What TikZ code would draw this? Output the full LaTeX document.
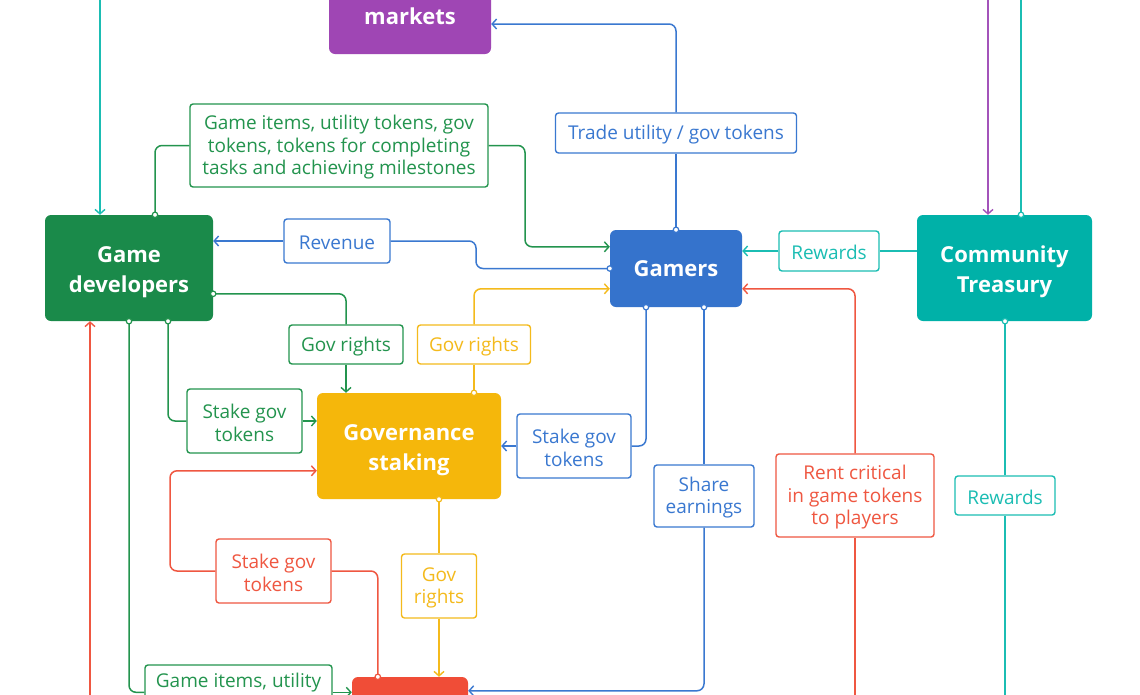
\documentclass[tikz,border=0pt]{standalone}
\usepackage{fontspec}
\setmainfont{Open Sans}
\usetikzlibrary{arrows.meta}
\definecolor{cgreen}{HTML}{1A8A4A}
\definecolor{lgreen}{HTML}{23944E}
\definecolor{cblue}{HTML}{3573CC}
\definecolor{lblue}{HTML}{3A78D0}
\definecolor{cteal}{HTML}{00B1A8}
\definecolor{lteal}{HTML}{1BBDB3}
\definecolor{cyellow}{HTML}{F5B70B}
\definecolor{lyellow}{HTML}{F4BA1C}
\definecolor{cred}{HTML}{F04D37}
\definecolor{lred}{HTML}{EF5741}
\definecolor{cpurple}{HTML}{9F46B4}
\definecolor{lpurple}{HTML}{A353BA}
\newcommand{\toplinestrut}{\rule{0pt}{25pt}}
\newcommand{\lbltopstrut}{\rule{0pt}{18pt}}
\tikzset{
  mainbox/.style={draw=none, fill=#1, rounded corners=6pt, text=white, align=center,
    inner sep=0pt, font=\fontsize{22}{30}\selectfont\bfseries},
  lbl/.style={draw=#1, fill=white, line width=1.4pt, rounded corners=3pt, text=#1, align=center,
    inner sep=0pt, font=\fontsize{19}{22.5}\selectfont},
  conn/.style={draw=#1, line width=1.5pt, rounded corners=7pt},
  arr/.style={conn=#1, -{Straight Barb[length=4.5pt,width=10pt,line width=1.4pt]}},
  pindot/.style={draw=#1, fill=white, line width=1.2pt},
}
\begin{document}
\begin{tikzpicture}[x=1pt,y=-1pt]
\clip (0,0) rectangle (1140,694);
\fill[white] (0,0) rectangle (1140,694);

% main boxes
\node[mainbox=cpurple, minimum width=162pt, minimum height=106pt] (mk) at (410,1) {\strut\\markets\rule[-4pt]{0pt}{0pt}};
\node[mainbox=cgreen, minimum width=168pt, minimum height=106pt] (gd) at (129,268) {\toplinestrut Game\\developers};
\node[mainbox=cblue, minimum width=132pt, minimum height=77pt] (gm) at (676,268.5) {Gamers};
\node[mainbox=cteal, minimum width=175pt, minimum height=106pt] (ct) at (1004.5,268) {\toplinestrut Community\\Treasury};
\node[mainbox=cyellow, minimum width=184pt, minimum height=106pt] (gs) at (409,446) {\toplinestrut Governance\\staking};
\node[mainbox=cred, minimum width=116pt, minimum height=106pt] (rb) at (410,730) {};

% labels
\node[lbl=lgreen, minimum width=298pt, minimum height=83pt] (l1) at (339,145.5)
  {\lbltopstrut Game items, utility tokens, gov\\tokens, tokens for completing\\tasks and achieving milestones};
\node[lbl=lblue, minimum width=106pt, minimum height=44pt] (lrev) at (337,241) {\lbltopstrut Revenue};
\node[lbl=lblue, minimum width=241pt, minimum height=40pt] (ltr) at (676,133) {\lbltopstrut Trade utility / gov tokens};
\node[lbl=lteal, minimum width=100pt, minimum height=40pt] (lrw1) at (829,251) {\lbltopstrut Rewards};
\node[lbl=lgreen, minimum width=114pt, minimum height=39pt] (lgr1) at (346,344.5) {\lbltopstrut Gov rights};
\node[lbl=lyellow, minimum width=113pt, minimum height=39pt] (lgr2) at (474,344.5) {\lbltopstrut Gov rights};
\node[lbl=lgreen, minimum width=115pt, minimum height=64pt] (lsg1) at (244.5,421) {\lbltopstrut Stake gov\\tokens};
\node[lbl=lblue, minimum width=114pt, minimum height=64pt] (lsg2) at (574,446) {\lbltopstrut Stake gov\\tokens};
\node[lbl=lblue, minimum width=100pt, minimum height=62pt] (lse) at (704,496) {\lbltopstrut Share\\earnings};
\node[lbl=lred, minimum width=158pt, minimum height=83pt] (lrent) at (855,495.5) {\lbltopstrut Rent critical\\in game tokens\\to players};
\node[lbl=lteal, minimum width=100pt, minimum height=39pt] (lrw2) at (1005,495.5) {\lbltopstrut Rewards};
\node[lbl=lred, minimum width=115pt, minimum height=64pt] (lsg3) at (273.5,571) {\lbltopstrut Stake gov\\tokens};
\node[lbl=lyellow, minimum width=75pt, minimum height=64pt] (lgr3) at (439,586) {\lbltopstrut Gov\\rights};
\node[lbl=lgreen, minimum width=187pt, minimum height=60pt] (lgi) at (238.5,695) {Game items, utility\\\strut};

% free ends and helper points
\coordinate (t1) at (100,-10);
\coordinate (p1) at (988,-10);
\coordinate (t2) at (1021,-10);
\coordinate (r1) at (855,710);
\coordinate (r2) at (90,710);
\coordinate (t3) at (1005,710);
\coordinate (c4) at (676,24);
\coordinate (c5) at (525,200);
\coordinate (c6) at (476,255);
\coordinate (c15) at (170,520);

% start points on boxes
\coordinate (s3) at (t2 |- ct.north);
\coordinate (s5) at ([xshift=26pt]gd.north);
\coordinate (s9) at ([xshift=65pt]gs.north);
\coordinate (s10) at ([yshift=-79pt]gd.north east);
\coordinate (s11) at ([xshift=39pt]gd.south);
\coordinate (s12) at ([xshift=-30pt]gm.south);
\coordinate (s13) at ([xshift=28pt]gm.south);
\coordinate (s14) at ([xshift=30pt]gs.south);
\coordinate (s15) at ([xshift=26pt]rb.north west);
\coordinate (s16) at (gd.south);
\coordinate (s18) at ([xshift=0.5pt]ct.south);

% target points
\coordinate (gmA) at ([yshift=-17pt]gm.north west);
\coordinate (gmB) at ([yshift=-59pt]gm.north west);
\coordinate (gmC) at ([yshift=-59pt]gm.north east);
\coordinate (gsR) at ([yshift=-78pt]gs.north west);
\coordinate (rbE) at ([yshift=-14pt]rb.north east);
\coordinate (lgiW) at ([yshift=-28pt]lgi.north west);
\coordinate (lgiE) at ([yshift=-28pt]lgi.north east);

% connectors
\draw[arr=lteal] (t1) -- (t1 |- gd.north);
\draw[arr=lpurple] (p1) -- (p1 |- ct.north);
\draw[conn=lteal] (s3) -- (t2);

\draw[conn=lblue] (gm.north) -- (ltr.south);
\draw[arr=lblue] (ltr.north) -- (c4) -- (c4 -| mk.east);

\draw[conn=lgreen] (s5) |- (l1.west);
\draw[arr=lgreen] (l1.east) -| (c5) |- (gmA);

\draw[conn=lblue] (gm.west) -| (c6) |- (lrev.east);
\draw[arr=lblue] (lrev.west) -- (lrev.west -| gd.east);

\draw[conn=lteal] (lrw1.east -| ct.west) -- (lrw1.east);
\draw[arr=lteal] (lrw1.west) -- (lrw1.west -| gm.east);

\draw[conn=lred] (r1) -- (lrent.south);
\draw[arr=lred] (lrent.north) |- (gmC);

\draw[conn=lyellow] (s9) -- (lgr2.south);
\draw[arr=lyellow] (lgr2.north) |- (gmB);

\draw[conn=lgreen] (s10) -| (lgr1.north);
\draw[arr=lgreen] (lgr1.south) -- (lgr1.south |- gs.north);

\draw[conn=lgreen] (s11) |- (lsg1.west);
\draw[arr=lgreen] (lsg1.east) -- (lsg1.east -| gs.west);

\draw[conn=lblue] (s12) |- (lsg2.east);
\draw[arr=lblue] (lsg2.west) -- (lsg2.west -| gs.east);

\draw[conn=lblue] (s13) -- (lse.north);
\draw[arr=lblue] (lse.south) |- (rbE);

\draw[conn=lyellow] (s14) -- (lgr3.north);
\draw[arr=lyellow] (lgr3.south) -- (lgr3.south |- rb.north);

\draw[conn=lred] (s15) |- (lsg3.east);
\draw[arr=lred] (lsg3.west) -| (c15) |- (gsR);

\draw[conn=lgreen] (s16) |- (lgiW);
\draw[arr=lgreen] (lgiE) -- (lgiE -| rb.west);

\draw[arr=lred] (r2) -- (r2 |- gd.south);

\draw[conn=lteal] (s18) -- (lrw2.north);
\draw[conn=lteal] (lrw2.south) -- (t3);

% start dots
\draw[pindot=lteal] (s3) circle (2.7pt);
\draw[pindot=lblue] (gm.north) circle (2.7pt);
\draw[pindot=lgreen] (s5) circle (2.7pt);
\draw[pindot=lblue] (gm.west) circle (2.7pt);
\draw[pindot=lyellow] (s9) circle (2.7pt);
\draw[pindot=lgreen] (s10) circle (2.7pt);
\draw[pindot=lgreen] (s11) circle (2.7pt);
\draw[pindot=lblue] (s12) circle (2.7pt);
\draw[pindot=lblue] (s13) circle (2.7pt);
\draw[pindot=lyellow] (s14) circle (2.7pt);
\draw[pindot=lred] (s15) circle (2.7pt);
\draw[pindot=lgreen] (s16) circle (2.7pt);
\draw[pindot=lteal] (s18) circle (2.7pt);
\end{tikzpicture}
\end{document}
